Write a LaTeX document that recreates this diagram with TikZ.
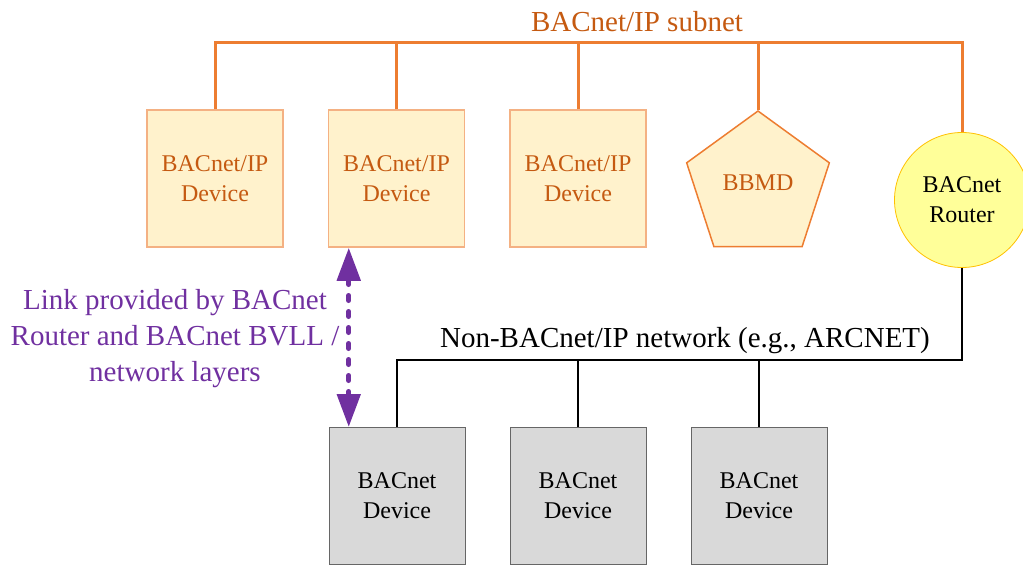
\documentclass[tikz,border=0pt]{standalone}
\usepackage{fontspec}
\setmainfont{Liberation Serif}
\usetikzlibrary{shapes,arrows.meta,positioning}
\definecolor{ipline}{HTML}{ED7D31}
\definecolor{ipfill}{HTML}{FFF2CC}
\definecolor{ipborder}{HTML}{F4B183}
\definecolor{iptext}{HTML}{C55A11}
\definecolor{routerfill}{HTML}{FFFF99}
\definecolor{routerborder}{HTML}{FFC000}
\definecolor{devfill}{HTML}{D9D9D9}
\definecolor{linkcol}{HTML}{7030A0}

\begin{document}
\begin{tikzpicture}[x=1pt,y=-1pt,node distance=44pt]
   \tikzset{ip node/.style={rectangle, draw=ipborder, fill=ipfill, line width=1.5pt,
   		text=iptext, align=center, minimum width=136pt, minimum height=137pt,
   		font=\fontsize{24}{30}\selectfont}, }
   \tikzset{bbmd node/.style={regular polygon, regular polygon sides=5, draw=ipline,
   		fill=ipfill, line width=1.5pt, text=iptext, minimum size=150pt, inner sep=0pt,
   		font=\fontsize{24}{30}\selectfont}, }
   \tikzset{router node/.style={circle, draw=routerborder, fill=routerfill, line width=0.8pt,
   		align=center, minimum size=135pt, inner sep=0pt,
   		font=\fontsize{24}{30}\selectfont}, }
   \tikzset{dev node/.style={rectangle, draw=black!60, fill=devfill, line width=1pt,
   		align=center, minimum width=136pt, minimum height=137pt,
   		font=\fontsize{24}{30}\selectfont}, }
   \tikzset{big label/.style={align=center, inner sep=0pt,
   		font=\fontsize{29}{36}\selectfont}, }
   \tikzset{ip line/.style={ipline, line width=3pt},}
   \tikzset{nonip line/.style={black, line width=2.5pt},}
   \tikzset{link arrow/.style={linkcol, line width=5pt, dash pattern=on 5pt off 11pt,
   		line cap=round, >={Triangle[length=33pt,width=23pt]}, <->},}

\useasboundingbox (0,0) rectangle (1023,565);

\node[ip node] (ipdev1) at (215,178.5) {BACnet/IP\\Device};
\node[ip node] (ipdev2) [right =of ipdev1] {BACnet/IP\\Device};
\node[ip node] (ipdev3) [right =of ipdev2] {BACnet/IP\\Device};
\node[bbmd node] (bbmd) at (758,186) {\raisebox{6pt}{BBMD}};
\node[router node] (router) at (962,200) {BACnet\\Router};
\node[dev node] (bdev1) at (397,496) {BACnet\\Device};
\node[dev node] (bdev2) [right =of bdev1] {BACnet\\Device};
\node[dev node] (bdev3) [right =of bdev2] {BACnet\\Device};

\node[big label, text=iptext] (iplabel) at (637,22) {BACnet/IP subnet};
\node[big label] (noniplabel) at (685,341) {Non-BACnet/IP network (e.g., ARCNET)};
\node[big label, text=linkcol] (linklabel) at (175,339)
	{Link provided by BACnet\\Router and BACnet BVLL /\\network layers};

\coordinate (ipbus) at (600,42);
\coordinate (nonipbus) at (680,360);

% BACnet/IP subnet
\draw[ip line] (ipdev1.north) |- (ipbus) -| (router.north);
\foreach \n in {ipdev2,ipdev3,bbmd}
\draw[ip line] (\n.north) -- (\n.north |- ipbus);
% non-IP network
\draw[nonip line] (router.south) |- (nonipbus) -| (bdev1.north);
\foreach \n in {bdev2,bdev3}
\draw[nonip line] (\n.north) -- (\n.north |- nonipbus);
% link
\coordinate (linktop) at ([xshift=21pt]ipdev2.south west);
\coordinate (linkbottom) at (linktop |- bdev1.north);
\draw[link arrow] (linktop) -- (linkbottom);
\end{tikzpicture}
\end{document}
